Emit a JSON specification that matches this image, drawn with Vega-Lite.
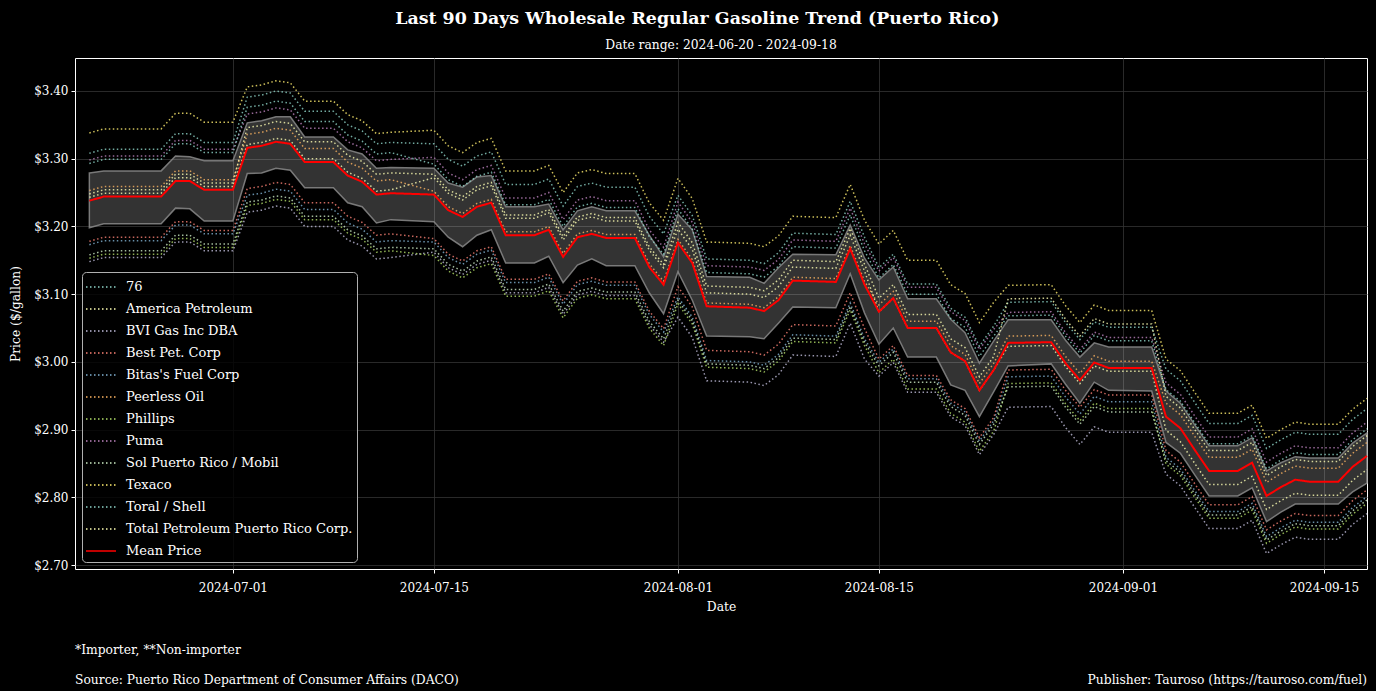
{
"$schema":"https://vega.github.io/schema/vega-lite/v6.json",
"background":"#000000",
"padding":{"top":9,"left":9,"right":9,"bottom":0},
"title":{"text":"Last 90 Days Wholesale Regular Gasoline Trend (Puerto Rico)","fontSize":17.4,"fontWeight":"bold","font":"DejaVu Serif","color":"white","anchor":"middle","frame":"bounds","offset":11,"dx":7},
"resolve":{"scale":{"color":"independent","strokeDash":"independent"},"legend":{"color":"independent","strokeDash":"independent"}},
"datasets":{
"band":[
{"d":"2024-06-21","hi":3.279,"lo":3.198},{"d":"2024-06-22","hi":3.282,"lo":3.204},{"d":"2024-06-26","hi":3.282,"lo":3.204},{"d":"2024-06-27","hi":3.304,"lo":3.227},{"d":"2024-06-28","hi":3.303,"lo":3.226},{"d":"2024-06-29","hi":3.297,"lo":3.208},{"d":"2024-07-01","hi":3.297,"lo":3.208},
{"d":"2024-07-02","hi":3.353,"lo":3.278},{"d":"2024-07-03","hi":3.356,"lo":3.279},{"d":"2024-07-04","hi":3.362,"lo":3.286},{"d":"2024-07-05","hi":3.362,"lo":3.283},{"d":"2024-07-06","hi":3.332,"lo":3.257},{"d":"2024-07-08","hi":3.332,"lo":3.257},{"d":"2024-07-09","hi":3.313,"lo":3.235},{"d":"2024-07-10","hi":3.307,"lo":3.229},{"d":"2024-07-11","hi":3.286,"lo":3.205},{"d":"2024-07-12","hi":3.287,"lo":3.210},
{"d":"2024-07-15","hi":3.286,"lo":3.207},{"d":"2024-07-16","hi":3.264,"lo":3.184},{"d":"2024-07-17","hi":3.258,"lo":3.170},{"d":"2024-07-18","hi":3.273,"lo":3.187},{"d":"2024-07-19","hi":3.275,"lo":3.195},{"d":"2024-07-20","hi":3.229,"lo":3.146},{"d":"2024-07-22","hi":3.229,"lo":3.146},{"d":"2024-07-23","hi":3.233,"lo":3.156},{"d":"2024-07-24","hi":3.195,"lo":3.117},{"d":"2024-07-25","hi":3.223,"lo":3.143},{"d":"2024-07-26","hi":3.229,"lo":3.152},{"d":"2024-07-27","hi":3.223,"lo":3.142},{"d":"2024-07-29","hi":3.223,"lo":3.142},{"d":"2024-07-30","hi":3.187,"lo":3.102},{"d":"2024-07-31","hi":3.155,"lo":3.071},
{"d":"2024-08-01","hi":3.218,"lo":3.133},{"d":"2024-08-02","hi":3.195,"lo":3.091},{"d":"2024-08-03","hi":3.126,"lo":3.038},{"d":"2024-08-06","hi":3.125,"lo":3.037},{"d":"2024-08-07","hi":3.116,"lo":3.034},{"d":"2024-08-08","hi":3.139,"lo":3.057},{"d":"2024-08-09","hi":3.159,"lo":3.081},{"d":"2024-08-12","hi":3.158,"lo":3.080},{"d":"2024-08-13","hi":3.202,"lo":3.130},{"d":"2024-08-14","hi":3.153,"lo":3.072},
{"d":"2024-08-15","hi":3.121,"lo":3.026},{"d":"2024-08-16","hi":3.140,"lo":3.050},{"d":"2024-08-17","hi":3.093,"lo":3.007},{"d":"2024-08-19","hi":3.093,"lo":3.007},{"d":"2024-08-20","hi":3.063,"lo":2.966},{"d":"2024-08-21","hi":3.043,"lo":2.958},{"d":"2024-08-22","hi":2.998,"lo":2.919},{"d":"2024-08-23","hi":3.031,"lo":2.956},
{"d":"2024-08-24","hi":3.062,"lo":2.994},{"d":"2024-08-27","hi":3.062,"lo":2.997},{"d":"2024-08-28","hi":3.032,"lo":2.967},{"d":"2024-08-29","hi":3.007,"lo":2.939},{"d":"2024-08-30","hi":3.028,"lo":2.970},{"d":"2024-08-31","hi":3.022,"lo":2.958},{"d":"2024-09-03","hi":3.022,"lo":2.957},
{"d":"2024-09-04","hi":2.957,"lo":2.881},{"d":"2024-09-05","hi":2.939,"lo":2.865},{"d":"2024-09-06","hi":2.907,"lo":2.833},{"d":"2024-09-07","hi":2.876,"lo":2.802},{"d":"2024-09-09","hi":2.876,"lo":2.802},{"d":"2024-09-10","hi":2.888,"lo":2.814},{"d":"2024-09-11","hi":2.839,"lo":2.764},{"d":"2024-09-12","hi":2.851,"lo":2.778},{"d":"2024-09-13","hi":2.860,"lo":2.790},{"d":"2024-09-14","hi":2.858,"lo":2.790},{"d":"2024-09-16","hi":2.858,"lo":2.790},{"d":"2024-09-17","hi":2.880,"lo":2.808},{"d":"2024-09-18","hi":2.895,"lo":2.821}
],
"mean":[
{"d":"2024-06-21","c":"Mean Price","p":3.238},{"d":"2024-06-22","c":"Mean Price","p":3.244},{"d":"2024-06-26","c":"Mean Price","p":3.244},{"d":"2024-06-27","c":"Mean Price","p":3.267},{"d":"2024-06-28","c":"Mean Price","p":3.267},{"d":"2024-06-29","c":"Mean Price","p":3.254},{"d":"2024-07-01","c":"Mean Price","p":3.254},
{"d":"2024-07-02","c":"Mean Price","p":3.316},{"d":"2024-07-03","c":"Mean Price","p":3.319},{"d":"2024-07-04","c":"Mean Price","p":3.325},{"d":"2024-07-05","c":"Mean Price","p":3.322},{"d":"2024-07-06","c":"Mean Price","p":3.295},{"d":"2024-07-08","c":"Mean Price","p":3.295},{"d":"2024-07-09","c":"Mean Price","p":3.275},{"d":"2024-07-10","c":"Mean Price","p":3.266},{"d":"2024-07-11","c":"Mean Price","p":3.247},{"d":"2024-07-12","c":"Mean Price","p":3.249},
{"d":"2024-07-15","c":"Mean Price","p":3.247},{"d":"2024-07-16","c":"Mean Price","p":3.224},{"d":"2024-07-17","c":"Mean Price","p":3.214},{"d":"2024-07-18","c":"Mean Price","p":3.229},{"d":"2024-07-19","c":"Mean Price","p":3.235},{"d":"2024-07-20","c":"Mean Price","p":3.187},{"d":"2024-07-22","c":"Mean Price","p":3.187},{"d":"2024-07-23","c":"Mean Price","p":3.195},{"d":"2024-07-24","c":"Mean Price","p":3.155},{"d":"2024-07-25","c":"Mean Price","p":3.184},{"d":"2024-07-26","c":"Mean Price","p":3.189},{"d":"2024-07-27","c":"Mean Price","p":3.183},{"d":"2024-07-29","c":"Mean Price","p":3.183},{"d":"2024-07-30","c":"Mean Price","p":3.140},{"d":"2024-07-31","c":"Mean Price","p":3.114},
{"d":"2024-08-01","c":"Mean Price","p":3.176},{"d":"2024-08-02","c":"Mean Price","p":3.146},{"d":"2024-08-03","c":"Mean Price","p":3.082},{"d":"2024-08-06","c":"Mean Price","p":3.080},{"d":"2024-08-07","c":"Mean Price","p":3.075},{"d":"2024-08-08","c":"Mean Price","p":3.091},{"d":"2024-08-09","c":"Mean Price","p":3.120},{"d":"2024-08-12","c":"Mean Price","p":3.118},{"d":"2024-08-13","c":"Mean Price","p":3.167},{"d":"2024-08-14","c":"Mean Price","p":3.114},
{"d":"2024-08-15","c":"Mean Price","p":3.074},{"d":"2024-08-16","c":"Mean Price","p":3.094},{"d":"2024-08-17","c":"Mean Price","p":3.050},{"d":"2024-08-19","c":"Mean Price","p":3.050},{"d":"2024-08-20","c":"Mean Price","p":3.014},{"d":"2024-08-21","c":"Mean Price","p":3.001},{"d":"2024-08-22","c":"Mean Price","p":2.958},{"d":"2024-08-23","c":"Mean Price","p":2.988},
{"d":"2024-08-24","c":"Mean Price","p":3.028},{"d":"2024-08-27","c":"Mean Price","p":3.029},{"d":"2024-08-28","c":"Mean Price","p":2.998},{"d":"2024-08-29","c":"Mean Price","p":2.973},{"d":"2024-08-30","c":"Mean Price","p":2.999},{"d":"2024-08-31","c":"Mean Price","p":2.991},{"d":"2024-09-03","c":"Mean Price","p":2.991},
{"d":"2024-09-04","c":"Mean Price","p":2.919},{"d":"2024-09-05","c":"Mean Price","p":2.902},{"d":"2024-09-06","c":"Mean Price","p":2.870},{"d":"2024-09-07","c":"Mean Price","p":2.839},{"d":"2024-09-09","c":"Mean Price","p":2.839},{"d":"2024-09-10","c":"Mean Price","p":2.851},{"d":"2024-09-11","c":"Mean Price","p":2.802},{"d":"2024-09-12","c":"Mean Price","p":2.815},{"d":"2024-09-13","c":"Mean Price","p":2.826},{"d":"2024-09-14","c":"Mean Price","p":2.823},{"d":"2024-09-16","c":"Mean Price","p":2.823},{"d":"2024-09-17","c":"Mean Price","p":2.845},{"d":"2024-09-18","c":"Mean Price","p":2.861}
],
"series":[
{"d":"2024-06-21","c":"76","p":3.308},{"d":"2024-06-22","c":"76","p":3.314},{"d":"2024-06-26","c":"76","p":3.314},{"d":"2024-06-27","c":"76","p":3.337},{"d":"2024-06-28","c":"76","p":3.337},{"d":"2024-06-29","c":"76","p":3.324},{"d":"2024-07-01","c":"76","p":3.324},{"d":"2024-07-02","c":"76","p":3.391},{"d":"2024-07-03","c":"76","p":3.394},{"d":"2024-07-04","c":"76","p":3.400},{"d":"2024-07-05","c":"76","p":3.397},{"d":"2024-07-06","c":"76","p":3.370},{"d":"2024-07-08","c":"76","p":3.370},{"d":"2024-07-09","c":"76","p":3.350},{"d":"2024-07-10","c":"76","p":3.341},{"d":"2024-07-11","c":"76","p":3.322},{"d":"2024-07-12","c":"76","p":3.324},{"d":"2024-07-15","c":"76","p":3.322},{"d":"2024-07-16","c":"76","p":3.299},{"d":"2024-07-17","c":"76","p":3.289},{"d":"2024-07-18","c":"76","p":3.304},{"d":"2024-07-19","c":"76","p":3.310},{"d":"2024-07-20","c":"76","p":3.262},{"d":"2024-07-22","c":"76","p":3.262},{"d":"2024-07-23","c":"76","p":3.270},{"d":"2024-07-24","c":"76","p":3.230},{"d":"2024-07-25","c":"76","p":3.259},{"d":"2024-07-26","c":"76","p":3.264},{"d":"2024-07-27","c":"76","p":3.258},{"d":"2024-07-29","c":"76","p":3.258},{"d":"2024-07-30","c":"76","p":3.215},{"d":"2024-07-31","c":"76","p":3.189},{"d":"2024-08-01","c":"76","p":3.246},{"d":"2024-08-02","c":"76","p":3.216},{"d":"2024-08-03","c":"76","p":3.152},{"d":"2024-08-06","c":"76","p":3.150},{"d":"2024-08-07","c":"76","p":3.145},{"d":"2024-08-08","c":"76","p":3.161},{"d":"2024-08-09","c":"76","p":3.190},{"d":"2024-08-12","c":"76","p":3.188},{"d":"2024-08-13","c":"76","p":3.237},{"d":"2024-08-14","c":"76","p":3.184},{"d":"2024-08-15","c":"76","p":3.139},{"d":"2024-08-16","c":"76","p":3.159},{"d":"2024-08-17","c":"76","p":3.115},{"d":"2024-08-19","c":"76","p":3.115},{"d":"2024-08-20","c":"76","p":3.079},{"d":"2024-08-21","c":"76","p":3.066},{"d":"2024-08-22","c":"76","p":3.023},{"d":"2024-08-23","c":"76","p":3.053},{"d":"2024-08-24","c":"76","p":3.088},{"d":"2024-08-27","c":"76","p":3.089},{"d":"2024-08-28","c":"76","p":3.058},{"d":"2024-08-29","c":"76","p":3.033},{"d":"2024-08-30","c":"76","p":3.059},{"d":"2024-08-31","c":"76","p":3.051},{"d":"2024-09-03","c":"76","p":3.051},{"d":"2024-09-04","c":"76","p":2.989},{"d":"2024-09-05","c":"76","p":2.972},{"d":"2024-09-06","c":"76","p":2.940},{"d":"2024-09-07","c":"76","p":2.909},{"d":"2024-09-09","c":"76","p":2.909},{"d":"2024-09-10","c":"76","p":2.921},{"d":"2024-09-11","c":"76","p":2.872},{"d":"2024-09-12","c":"76","p":2.885},{"d":"2024-09-13","c":"76","p":2.896},{"d":"2024-09-14","c":"76","p":2.893},{"d":"2024-09-16","c":"76","p":2.893},{"d":"2024-09-17","c":"76","p":2.915},{"d":"2024-09-18","c":"76","p":2.931},
{"d":"2024-06-21","c":"America Petroleum","p":3.243},{"d":"2024-06-22","c":"America Petroleum","p":3.249},{"d":"2024-06-26","c":"America Petroleum","p":3.249},{"d":"2024-06-27","c":"America Petroleum","p":3.272},{"d":"2024-06-28","c":"America Petroleum","p":3.272},{"d":"2024-06-29","c":"America Petroleum","p":3.259},{"d":"2024-07-01","c":"America Petroleum","p":3.259},{"d":"2024-07-02","c":"America Petroleum","p":3.321},{"d":"2024-07-03","c":"America Petroleum","p":3.324},{"d":"2024-07-04","c":"America Petroleum","p":3.330},{"d":"2024-07-05","c":"America Petroleum","p":3.327},{"d":"2024-07-06","c":"America Petroleum","p":3.300},{"d":"2024-07-08","c":"America Petroleum","p":3.300},{"d":"2024-07-09","c":"America Petroleum","p":3.280},{"d":"2024-07-10","c":"America Petroleum","p":3.271},{"d":"2024-07-11","c":"America Petroleum","p":3.252},{"d":"2024-07-12","c":"America Petroleum","p":3.254},{"d":"2024-07-15","c":"America Petroleum","p":3.272},{"d":"2024-07-16","c":"America Petroleum","p":3.249},{"d":"2024-07-17","c":"America Petroleum","p":3.239},{"d":"2024-07-18","c":"America Petroleum","p":3.254},{"d":"2024-07-19","c":"America Petroleum","p":3.260},{"d":"2024-07-20","c":"America Petroleum","p":3.212},{"d":"2024-07-22","c":"America Petroleum","p":3.212},{"d":"2024-07-23","c":"America Petroleum","p":3.220},{"d":"2024-07-24","c":"America Petroleum","p":3.180},{"d":"2024-07-25","c":"America Petroleum","p":3.209},{"d":"2024-07-26","c":"America Petroleum","p":3.214},{"d":"2024-07-27","c":"America Petroleum","p":3.208},{"d":"2024-07-29","c":"America Petroleum","p":3.208},{"d":"2024-07-30","c":"America Petroleum","p":3.165},{"d":"2024-07-31","c":"America Petroleum","p":3.139},{"d":"2024-08-01","c":"America Petroleum","p":3.196},{"d":"2024-08-02","c":"America Petroleum","p":3.166},{"d":"2024-08-03","c":"America Petroleum","p":3.102},{"d":"2024-08-06","c":"America Petroleum","p":3.100},{"d":"2024-08-07","c":"America Petroleum","p":3.095},{"d":"2024-08-08","c":"America Petroleum","p":3.111},{"d":"2024-08-09","c":"America Petroleum","p":3.140},{"d":"2024-08-12","c":"America Petroleum","p":3.138},{"d":"2024-08-13","c":"America Petroleum","p":3.187},{"d":"2024-08-14","c":"America Petroleum","p":3.134},{"d":"2024-08-15","c":"America Petroleum","p":3.074},{"d":"2024-08-16","c":"America Petroleum","p":3.094},{"d":"2024-08-17","c":"America Petroleum","p":3.050},{"d":"2024-08-19","c":"America Petroleum","p":3.050},{"d":"2024-08-20","c":"America Petroleum","p":3.014},{"d":"2024-08-21","c":"America Petroleum","p":3.001},{"d":"2024-08-22","c":"America Petroleum","p":2.958},{"d":"2024-08-23","c":"America Petroleum","p":2.988},{"d":"2024-08-24","c":"America Petroleum","p":3.023},{"d":"2024-08-27","c":"America Petroleum","p":3.024},{"d":"2024-08-28","c":"America Petroleum","p":2.993},{"d":"2024-08-29","c":"America Petroleum","p":2.968},{"d":"2024-08-30","c":"America Petroleum","p":2.994},{"d":"2024-08-31","c":"America Petroleum","p":2.986},{"d":"2024-09-03","c":"America Petroleum","p":2.986},{"d":"2024-09-04","c":"America Petroleum","p":2.899},{"d":"2024-09-05","c":"America Petroleum","p":2.882},{"d":"2024-09-06","c":"America Petroleum","p":2.850},{"d":"2024-09-07","c":"America Petroleum","p":2.819},{"d":"2024-09-09","c":"America Petroleum","p":2.819},{"d":"2024-09-10","c":"America Petroleum","p":2.831},{"d":"2024-09-11","c":"America Petroleum","p":2.782},{"d":"2024-09-12","c":"America Petroleum","p":2.795},{"d":"2024-09-13","c":"America Petroleum","p":2.806},{"d":"2024-09-14","c":"America Petroleum","p":2.803},{"d":"2024-09-16","c":"America Petroleum","p":2.803},{"d":"2024-09-17","c":"America Petroleum","p":2.825},{"d":"2024-09-18","c":"America Petroleum","p":2.841},
{"d":"2024-06-21","c":"BVI Gas Inc DBA","p":3.148},{"d":"2024-06-22","c":"BVI Gas Inc DBA","p":3.154},{"d":"2024-06-26","c":"BVI Gas Inc DBA","p":3.154},{"d":"2024-06-27","c":"BVI Gas Inc DBA","p":3.177},{"d":"2024-06-28","c":"BVI Gas Inc DBA","p":3.177},{"d":"2024-06-29","c":"BVI Gas Inc DBA","p":3.164},{"d":"2024-07-01","c":"BVI Gas Inc DBA","p":3.164},{"d":"2024-07-02","c":"BVI Gas Inc DBA","p":3.221},{"d":"2024-07-03","c":"BVI Gas Inc DBA","p":3.224},{"d":"2024-07-04","c":"BVI Gas Inc DBA","p":3.230},{"d":"2024-07-05","c":"BVI Gas Inc DBA","p":3.227},{"d":"2024-07-06","c":"BVI Gas Inc DBA","p":3.200},{"d":"2024-07-08","c":"BVI Gas Inc DBA","p":3.200},{"d":"2024-07-09","c":"BVI Gas Inc DBA","p":3.180},{"d":"2024-07-10","c":"BVI Gas Inc DBA","p":3.171},{"d":"2024-07-11","c":"BVI Gas Inc DBA","p":3.152},{"d":"2024-07-12","c":"BVI Gas Inc DBA","p":3.154},{"d":"2024-07-15","c":"BVI Gas Inc DBA","p":3.162},{"d":"2024-07-16","c":"BVI Gas Inc DBA","p":3.139},{"d":"2024-07-17","c":"BVI Gas Inc DBA","p":3.129},{"d":"2024-07-18","c":"BVI Gas Inc DBA","p":3.144},{"d":"2024-07-19","c":"BVI Gas Inc DBA","p":3.150},{"d":"2024-07-20","c":"BVI Gas Inc DBA","p":3.102},{"d":"2024-07-22","c":"BVI Gas Inc DBA","p":3.102},{"d":"2024-07-23","c":"BVI Gas Inc DBA","p":3.110},{"d":"2024-07-24","c":"BVI Gas Inc DBA","p":3.070},{"d":"2024-07-25","c":"BVI Gas Inc DBA","p":3.099},{"d":"2024-07-26","c":"BVI Gas Inc DBA","p":3.104},{"d":"2024-07-27","c":"BVI Gas Inc DBA","p":3.098},{"d":"2024-07-29","c":"BVI Gas Inc DBA","p":3.098},{"d":"2024-07-30","c":"BVI Gas Inc DBA","p":3.055},{"d":"2024-07-31","c":"BVI Gas Inc DBA","p":3.029},{"d":"2024-08-01","c":"BVI Gas Inc DBA","p":3.066},{"d":"2024-08-02","c":"BVI Gas Inc DBA","p":3.036},{"d":"2024-08-03","c":"BVI Gas Inc DBA","p":2.972},{"d":"2024-08-06","c":"BVI Gas Inc DBA","p":2.970},{"d":"2024-08-07","c":"BVI Gas Inc DBA","p":2.965},{"d":"2024-08-08","c":"BVI Gas Inc DBA","p":2.981},{"d":"2024-08-09","c":"BVI Gas Inc DBA","p":3.010},{"d":"2024-08-12","c":"BVI Gas Inc DBA","p":3.008},{"d":"2024-08-13","c":"BVI Gas Inc DBA","p":3.057},{"d":"2024-08-14","c":"BVI Gas Inc DBA","p":3.004},{"d":"2024-08-15","c":"BVI Gas Inc DBA","p":2.979},{"d":"2024-08-16","c":"BVI Gas Inc DBA","p":2.999},{"d":"2024-08-17","c":"BVI Gas Inc DBA","p":2.955},{"d":"2024-08-19","c":"BVI Gas Inc DBA","p":2.955},{"d":"2024-08-20","c":"BVI Gas Inc DBA","p":2.919},{"d":"2024-08-21","c":"BVI Gas Inc DBA","p":2.906},{"d":"2024-08-22","c":"BVI Gas Inc DBA","p":2.863},{"d":"2024-08-23","c":"BVI Gas Inc DBA","p":2.893},{"d":"2024-08-24","c":"BVI Gas Inc DBA","p":2.933},{"d":"2024-08-27","c":"BVI Gas Inc DBA","p":2.934},{"d":"2024-08-28","c":"BVI Gas Inc DBA","p":2.903},{"d":"2024-08-29","c":"BVI Gas Inc DBA","p":2.878},{"d":"2024-08-30","c":"BVI Gas Inc DBA","p":2.904},{"d":"2024-08-31","c":"BVI Gas Inc DBA","p":2.896},{"d":"2024-09-03","c":"BVI Gas Inc DBA","p":2.896},{"d":"2024-09-04","c":"BVI Gas Inc DBA","p":2.834},{"d":"2024-09-05","c":"BVI Gas Inc DBA","p":2.817},{"d":"2024-09-06","c":"BVI Gas Inc DBA","p":2.785},{"d":"2024-09-07","c":"BVI Gas Inc DBA","p":2.754},{"d":"2024-09-09","c":"BVI Gas Inc DBA","p":2.754},{"d":"2024-09-10","c":"BVI Gas Inc DBA","p":2.766},{"d":"2024-09-11","c":"BVI Gas Inc DBA","p":2.717},{"d":"2024-09-12","c":"BVI Gas Inc DBA","p":2.730},{"d":"2024-09-13","c":"BVI Gas Inc DBA","p":2.741},{"d":"2024-09-14","c":"BVI Gas Inc DBA","p":2.738},{"d":"2024-09-16","c":"BVI Gas Inc DBA","p":2.738},{"d":"2024-09-17","c":"BVI Gas Inc DBA","p":2.760},{"d":"2024-09-18","c":"BVI Gas Inc DBA","p":2.776},
{"d":"2024-06-21","c":"Best Pet. Corp","p":3.178},{"d":"2024-06-22","c":"Best Pet. Corp","p":3.184},{"d":"2024-06-26","c":"Best Pet. Corp","p":3.184},{"d":"2024-06-27","c":"Best Pet. Corp","p":3.207},{"d":"2024-06-28","c":"Best Pet. Corp","p":3.207},{"d":"2024-06-29","c":"Best Pet. Corp","p":3.194},{"d":"2024-07-01","c":"Best Pet. Corp","p":3.194},{"d":"2024-07-02","c":"Best Pet. Corp","p":3.256},{"d":"2024-07-03","c":"Best Pet. Corp","p":3.259},{"d":"2024-07-04","c":"Best Pet. Corp","p":3.265},{"d":"2024-07-05","c":"Best Pet. Corp","p":3.262},{"d":"2024-07-06","c":"Best Pet. Corp","p":3.235},{"d":"2024-07-08","c":"Best Pet. Corp","p":3.235},{"d":"2024-07-09","c":"Best Pet. Corp","p":3.215},{"d":"2024-07-10","c":"Best Pet. Corp","p":3.206},{"d":"2024-07-11","c":"Best Pet. Corp","p":3.187},{"d":"2024-07-12","c":"Best Pet. Corp","p":3.189},{"d":"2024-07-15","c":"Best Pet. Corp","p":3.182},{"d":"2024-07-16","c":"Best Pet. Corp","p":3.159},{"d":"2024-07-17","c":"Best Pet. Corp","p":3.149},{"d":"2024-07-18","c":"Best Pet. Corp","p":3.164},{"d":"2024-07-19","c":"Best Pet. Corp","p":3.170},{"d":"2024-07-20","c":"Best Pet. Corp","p":3.122},{"d":"2024-07-22","c":"Best Pet. Corp","p":3.122},{"d":"2024-07-23","c":"Best Pet. Corp","p":3.130},{"d":"2024-07-24","c":"Best Pet. Corp","p":3.090},{"d":"2024-07-25","c":"Best Pet. Corp","p":3.119},{"d":"2024-07-26","c":"Best Pet. Corp","p":3.124},{"d":"2024-07-27","c":"Best Pet. Corp","p":3.118},{"d":"2024-07-29","c":"Best Pet. Corp","p":3.118},{"d":"2024-07-30","c":"Best Pet. Corp","p":3.075},{"d":"2024-07-31","c":"Best Pet. Corp","p":3.049},{"d":"2024-08-01","c":"Best Pet. Corp","p":3.111},{"d":"2024-08-02","c":"Best Pet. Corp","p":3.081},{"d":"2024-08-03","c":"Best Pet. Corp","p":3.017},{"d":"2024-08-06","c":"Best Pet. Corp","p":3.015},{"d":"2024-08-07","c":"Best Pet. Corp","p":3.010},{"d":"2024-08-08","c":"Best Pet. Corp","p":3.026},{"d":"2024-08-09","c":"Best Pet. Corp","p":3.055},{"d":"2024-08-12","c":"Best Pet. Corp","p":3.053},{"d":"2024-08-13","c":"Best Pet. Corp","p":3.102},{"d":"2024-08-14","c":"Best Pet. Corp","p":3.049},{"d":"2024-08-15","c":"Best Pet. Corp","p":3.004},{"d":"2024-08-16","c":"Best Pet. Corp","p":3.024},{"d":"2024-08-17","c":"Best Pet. Corp","p":2.980},{"d":"2024-08-19","c":"Best Pet. Corp","p":2.980},{"d":"2024-08-20","c":"Best Pet. Corp","p":2.944},{"d":"2024-08-21","c":"Best Pet. Corp","p":2.931},{"d":"2024-08-22","c":"Best Pet. Corp","p":2.888},{"d":"2024-08-23","c":"Best Pet. Corp","p":2.918},{"d":"2024-08-24","c":"Best Pet. Corp","p":2.988},{"d":"2024-08-27","c":"Best Pet. Corp","p":2.989},{"d":"2024-08-28","c":"Best Pet. Corp","p":2.958},{"d":"2024-08-29","c":"Best Pet. Corp","p":2.933},{"d":"2024-08-30","c":"Best Pet. Corp","p":2.959},{"d":"2024-08-31","c":"Best Pet. Corp","p":2.951},{"d":"2024-09-03","c":"Best Pet. Corp","p":2.951},{"d":"2024-09-04","c":"Best Pet. Corp","p":2.869},{"d":"2024-09-05","c":"Best Pet. Corp","p":2.852},{"d":"2024-09-06","c":"Best Pet. Corp","p":2.820},{"d":"2024-09-07","c":"Best Pet. Corp","p":2.789},{"d":"2024-09-09","c":"Best Pet. Corp","p":2.789},{"d":"2024-09-10","c":"Best Pet. Corp","p":2.801},{"d":"2024-09-11","c":"Best Pet. Corp","p":2.752},{"d":"2024-09-12","c":"Best Pet. Corp","p":2.765},{"d":"2024-09-13","c":"Best Pet. Corp","p":2.776},{"d":"2024-09-14","c":"Best Pet. Corp","p":2.773},{"d":"2024-09-16","c":"Best Pet. Corp","p":2.773},{"d":"2024-09-17","c":"Best Pet. Corp","p":2.795},{"d":"2024-09-18","c":"Best Pet. Corp","p":2.811},
{"d":"2024-06-21","c":"Bitas's Fuel Corp","p":3.173},{"d":"2024-06-22","c":"Bitas's Fuel Corp","p":3.179},{"d":"2024-06-26","c":"Bitas's Fuel Corp","p":3.179},{"d":"2024-06-27","c":"Bitas's Fuel Corp","p":3.202},{"d":"2024-06-28","c":"Bitas's Fuel Corp","p":3.202},{"d":"2024-06-29","c":"Bitas's Fuel Corp","p":3.189},{"d":"2024-07-01","c":"Bitas's Fuel Corp","p":3.189},{"d":"2024-07-02","c":"Bitas's Fuel Corp","p":3.246},{"d":"2024-07-03","c":"Bitas's Fuel Corp","p":3.249},{"d":"2024-07-04","c":"Bitas's Fuel Corp","p":3.255},{"d":"2024-07-05","c":"Bitas's Fuel Corp","p":3.252},{"d":"2024-07-06","c":"Bitas's Fuel Corp","p":3.225},{"d":"2024-07-08","c":"Bitas's Fuel Corp","p":3.225},{"d":"2024-07-09","c":"Bitas's Fuel Corp","p":3.205},{"d":"2024-07-10","c":"Bitas's Fuel Corp","p":3.196},{"d":"2024-07-11","c":"Bitas's Fuel Corp","p":3.177},{"d":"2024-07-12","c":"Bitas's Fuel Corp","p":3.179},{"d":"2024-07-15","c":"Bitas's Fuel Corp","p":3.177},{"d":"2024-07-16","c":"Bitas's Fuel Corp","p":3.154},{"d":"2024-07-17","c":"Bitas's Fuel Corp","p":3.144},{"d":"2024-07-18","c":"Bitas's Fuel Corp","p":3.159},{"d":"2024-07-19","c":"Bitas's Fuel Corp","p":3.165},{"d":"2024-07-20","c":"Bitas's Fuel Corp","p":3.117},{"d":"2024-07-22","c":"Bitas's Fuel Corp","p":3.117},{"d":"2024-07-23","c":"Bitas's Fuel Corp","p":3.125},{"d":"2024-07-24","c":"Bitas's Fuel Corp","p":3.085},{"d":"2024-07-25","c":"Bitas's Fuel Corp","p":3.114},{"d":"2024-07-26","c":"Bitas's Fuel Corp","p":3.119},{"d":"2024-07-27","c":"Bitas's Fuel Corp","p":3.113},{"d":"2024-07-29","c":"Bitas's Fuel Corp","p":3.113},{"d":"2024-07-30","c":"Bitas's Fuel Corp","p":3.070},{"d":"2024-07-31","c":"Bitas's Fuel Corp","p":3.044},{"d":"2024-08-01","c":"Bitas's Fuel Corp","p":3.096},{"d":"2024-08-02","c":"Bitas's Fuel Corp","p":3.066},{"d":"2024-08-03","c":"Bitas's Fuel Corp","p":3.002},{"d":"2024-08-06","c":"Bitas's Fuel Corp","p":3.000},{"d":"2024-08-07","c":"Bitas's Fuel Corp","p":2.995},{"d":"2024-08-08","c":"Bitas's Fuel Corp","p":3.011},{"d":"2024-08-09","c":"Bitas's Fuel Corp","p":3.040},{"d":"2024-08-12","c":"Bitas's Fuel Corp","p":3.038},{"d":"2024-08-13","c":"Bitas's Fuel Corp","p":3.087},{"d":"2024-08-14","c":"Bitas's Fuel Corp","p":3.034},{"d":"2024-08-15","c":"Bitas's Fuel Corp","p":2.999},{"d":"2024-08-16","c":"Bitas's Fuel Corp","p":3.019},{"d":"2024-08-17","c":"Bitas's Fuel Corp","p":2.975},{"d":"2024-08-19","c":"Bitas's Fuel Corp","p":2.975},{"d":"2024-08-20","c":"Bitas's Fuel Corp","p":2.939},{"d":"2024-08-21","c":"Bitas's Fuel Corp","p":2.926},{"d":"2024-08-22","c":"Bitas's Fuel Corp","p":2.883},{"d":"2024-08-23","c":"Bitas's Fuel Corp","p":2.913},{"d":"2024-08-24","c":"Bitas's Fuel Corp","p":2.978},{"d":"2024-08-27","c":"Bitas's Fuel Corp","p":2.979},{"d":"2024-08-28","c":"Bitas's Fuel Corp","p":2.948},{"d":"2024-08-29","c":"Bitas's Fuel Corp","p":2.923},{"d":"2024-08-30","c":"Bitas's Fuel Corp","p":2.949},{"d":"2024-08-31","c":"Bitas's Fuel Corp","p":2.941},{"d":"2024-09-03","c":"Bitas's Fuel Corp","p":2.941},{"d":"2024-09-04","c":"Bitas's Fuel Corp","p":2.859},{"d":"2024-09-05","c":"Bitas's Fuel Corp","p":2.842},{"d":"2024-09-06","c":"Bitas's Fuel Corp","p":2.810},{"d":"2024-09-07","c":"Bitas's Fuel Corp","p":2.779},{"d":"2024-09-09","c":"Bitas's Fuel Corp","p":2.779},{"d":"2024-09-10","c":"Bitas's Fuel Corp","p":2.791},{"d":"2024-09-11","c":"Bitas's Fuel Corp","p":2.742},{"d":"2024-09-12","c":"Bitas's Fuel Corp","p":2.755},{"d":"2024-09-13","c":"Bitas's Fuel Corp","p":2.766},{"d":"2024-09-14","c":"Bitas's Fuel Corp","p":2.763},{"d":"2024-09-16","c":"Bitas's Fuel Corp","p":2.763},{"d":"2024-09-17","c":"Bitas's Fuel Corp","p":2.785},{"d":"2024-09-18","c":"Bitas's Fuel Corp","p":2.801},
{"d":"2024-06-21","c":"Peerless Oil","p":3.253},{"d":"2024-06-22","c":"Peerless Oil","p":3.259},{"d":"2024-06-26","c":"Peerless Oil","p":3.259},{"d":"2024-06-27","c":"Peerless Oil","p":3.282},{"d":"2024-06-28","c":"Peerless Oil","p":3.282},{"d":"2024-06-29","c":"Peerless Oil","p":3.269},{"d":"2024-07-01","c":"Peerless Oil","p":3.269},{"d":"2024-07-02","c":"Peerless Oil","p":3.336},{"d":"2024-07-03","c":"Peerless Oil","p":3.339},{"d":"2024-07-04","c":"Peerless Oil","p":3.345},{"d":"2024-07-05","c":"Peerless Oil","p":3.342},{"d":"2024-07-06","c":"Peerless Oil","p":3.315},{"d":"2024-07-08","c":"Peerless Oil","p":3.315},{"d":"2024-07-09","c":"Peerless Oil","p":3.295},{"d":"2024-07-10","c":"Peerless Oil","p":3.286},{"d":"2024-07-11","c":"Peerless Oil","p":3.267},{"d":"2024-07-12","c":"Peerless Oil","p":3.269},{"d":"2024-07-15","c":"Peerless Oil","p":3.252},{"d":"2024-07-16","c":"Peerless Oil","p":3.229},{"d":"2024-07-17","c":"Peerless Oil","p":3.219},{"d":"2024-07-18","c":"Peerless Oil","p":3.234},{"d":"2024-07-19","c":"Peerless Oil","p":3.240},{"d":"2024-07-20","c":"Peerless Oil","p":3.192},{"d":"2024-07-22","c":"Peerless Oil","p":3.192},{"d":"2024-07-23","c":"Peerless Oil","p":3.200},{"d":"2024-07-24","c":"Peerless Oil","p":3.160},{"d":"2024-07-25","c":"Peerless Oil","p":3.189},{"d":"2024-07-26","c":"Peerless Oil","p":3.194},{"d":"2024-07-27","c":"Peerless Oil","p":3.188},{"d":"2024-07-29","c":"Peerless Oil","p":3.188},{"d":"2024-07-30","c":"Peerless Oil","p":3.145},{"d":"2024-07-31","c":"Peerless Oil","p":3.119},{"d":"2024-08-01","c":"Peerless Oil","p":3.181},{"d":"2024-08-02","c":"Peerless Oil","p":3.151},{"d":"2024-08-03","c":"Peerless Oil","p":3.087},{"d":"2024-08-06","c":"Peerless Oil","p":3.085},{"d":"2024-08-07","c":"Peerless Oil","p":3.080},{"d":"2024-08-08","c":"Peerless Oil","p":3.096},{"d":"2024-08-09","c":"Peerless Oil","p":3.125},{"d":"2024-08-12","c":"Peerless Oil","p":3.123},{"d":"2024-08-13","c":"Peerless Oil","p":3.172},{"d":"2024-08-14","c":"Peerless Oil","p":3.119},{"d":"2024-08-15","c":"Peerless Oil","p":3.084},{"d":"2024-08-16","c":"Peerless Oil","p":3.104},{"d":"2024-08-17","c":"Peerless Oil","p":3.060},{"d":"2024-08-19","c":"Peerless Oil","p":3.060},{"d":"2024-08-20","c":"Peerless Oil","p":3.024},{"d":"2024-08-21","c":"Peerless Oil","p":3.011},{"d":"2024-08-22","c":"Peerless Oil","p":2.968},{"d":"2024-08-23","c":"Peerless Oil","p":2.998},{"d":"2024-08-24","c":"Peerless Oil","p":3.038},{"d":"2024-08-27","c":"Peerless Oil","p":3.039},{"d":"2024-08-28","c":"Peerless Oil","p":3.008},{"d":"2024-08-29","c":"Peerless Oil","p":2.983},{"d":"2024-08-30","c":"Peerless Oil","p":3.009},{"d":"2024-08-31","c":"Peerless Oil","p":3.001},{"d":"2024-09-03","c":"Peerless Oil","p":3.001},{"d":"2024-09-04","c":"Peerless Oil","p":2.939},{"d":"2024-09-05","c":"Peerless Oil","p":2.922},{"d":"2024-09-06","c":"Peerless Oil","p":2.890},{"d":"2024-09-07","c":"Peerless Oil","p":2.859},{"d":"2024-09-09","c":"Peerless Oil","p":2.859},{"d":"2024-09-10","c":"Peerless Oil","p":2.871},{"d":"2024-09-11","c":"Peerless Oil","p":2.822},{"d":"2024-09-12","c":"Peerless Oil","p":2.835},{"d":"2024-09-13","c":"Peerless Oil","p":2.846},{"d":"2024-09-14","c":"Peerless Oil","p":2.843},{"d":"2024-09-16","c":"Peerless Oil","p":2.843},{"d":"2024-09-17","c":"Peerless Oil","p":2.865},{"d":"2024-09-18","c":"Peerless Oil","p":2.881},
{"d":"2024-06-21","c":"Phillips","p":3.153},{"d":"2024-06-22","c":"Phillips","p":3.159},{"d":"2024-06-26","c":"Phillips","p":3.159},{"d":"2024-06-27","c":"Phillips","p":3.182},{"d":"2024-06-28","c":"Phillips","p":3.182},{"d":"2024-06-29","c":"Phillips","p":3.169},{"d":"2024-07-01","c":"Phillips","p":3.169},{"d":"2024-07-02","c":"Phillips","p":3.231},{"d":"2024-07-03","c":"Phillips","p":3.234},{"d":"2024-07-04","c":"Phillips","p":3.240},{"d":"2024-07-05","c":"Phillips","p":3.237},{"d":"2024-07-06","c":"Phillips","p":3.210},{"d":"2024-07-08","c":"Phillips","p":3.210},{"d":"2024-07-09","c":"Phillips","p":3.190},{"d":"2024-07-10","c":"Phillips","p":3.181},{"d":"2024-07-11","c":"Phillips","p":3.162},{"d":"2024-07-12","c":"Phillips","p":3.164},{"d":"2024-07-15","c":"Phillips","p":3.157},{"d":"2024-07-16","c":"Phillips","p":3.134},{"d":"2024-07-17","c":"Phillips","p":3.124},{"d":"2024-07-18","c":"Phillips","p":3.139},{"d":"2024-07-19","c":"Phillips","p":3.145},{"d":"2024-07-20","c":"Phillips","p":3.097},{"d":"2024-07-22","c":"Phillips","p":3.097},{"d":"2024-07-23","c":"Phillips","p":3.105},{"d":"2024-07-24","c":"Phillips","p":3.065},{"d":"2024-07-25","c":"Phillips","p":3.094},{"d":"2024-07-26","c":"Phillips","p":3.099},{"d":"2024-07-27","c":"Phillips","p":3.093},{"d":"2024-07-29","c":"Phillips","p":3.093},{"d":"2024-07-30","c":"Phillips","p":3.050},{"d":"2024-07-31","c":"Phillips","p":3.024},{"d":"2024-08-01","c":"Phillips","p":3.086},{"d":"2024-08-02","c":"Phillips","p":3.056},{"d":"2024-08-03","c":"Phillips","p":2.992},{"d":"2024-08-06","c":"Phillips","p":2.990},{"d":"2024-08-07","c":"Phillips","p":2.985},{"d":"2024-08-08","c":"Phillips","p":3.001},{"d":"2024-08-09","c":"Phillips","p":3.030},{"d":"2024-08-12","c":"Phillips","p":3.028},{"d":"2024-08-13","c":"Phillips","p":3.077},{"d":"2024-08-14","c":"Phillips","p":3.024},{"d":"2024-08-15","c":"Phillips","p":2.984},{"d":"2024-08-16","c":"Phillips","p":3.004},{"d":"2024-08-17","c":"Phillips","p":2.960},{"d":"2024-08-19","c":"Phillips","p":2.960},{"d":"2024-08-20","c":"Phillips","p":2.924},{"d":"2024-08-21","c":"Phillips","p":2.911},{"d":"2024-08-22","c":"Phillips","p":2.868},{"d":"2024-08-23","c":"Phillips","p":2.898},{"d":"2024-08-24","c":"Phillips","p":2.968},{"d":"2024-08-27","c":"Phillips","p":2.969},{"d":"2024-08-28","c":"Phillips","p":2.938},{"d":"2024-08-29","c":"Phillips","p":2.913},{"d":"2024-08-30","c":"Phillips","p":2.939},{"d":"2024-08-31","c":"Phillips","p":2.931},{"d":"2024-09-03","c":"Phillips","p":2.931},{"d":"2024-09-04","c":"Phillips","p":2.849},{"d":"2024-09-05","c":"Phillips","p":2.832},{"d":"2024-09-06","c":"Phillips","p":2.800},{"d":"2024-09-07","c":"Phillips","p":2.769},{"d":"2024-09-09","c":"Phillips","p":2.769},{"d":"2024-09-10","c":"Phillips","p":2.781},{"d":"2024-09-11","c":"Phillips","p":2.732},{"d":"2024-09-12","c":"Phillips","p":2.745},{"d":"2024-09-13","c":"Phillips","p":2.756},{"d":"2024-09-14","c":"Phillips","p":2.753},{"d":"2024-09-16","c":"Phillips","p":2.753},{"d":"2024-09-17","c":"Phillips","p":2.775},{"d":"2024-09-18","c":"Phillips","p":2.791},
{"d":"2024-06-21","c":"Puma","p":3.298},{"d":"2024-06-22","c":"Puma","p":3.304},{"d":"2024-06-26","c":"Puma","p":3.304},{"d":"2024-06-27","c":"Puma","p":3.327},{"d":"2024-06-28","c":"Puma","p":3.327},{"d":"2024-06-29","c":"Puma","p":3.314},{"d":"2024-07-01","c":"Puma","p":3.314},{"d":"2024-07-02","c":"Puma","p":3.366},{"d":"2024-07-03","c":"Puma","p":3.369},{"d":"2024-07-04","c":"Puma","p":3.375},{"d":"2024-07-05","c":"Puma","p":3.372},{"d":"2024-07-06","c":"Puma","p":3.345},{"d":"2024-07-08","c":"Puma","p":3.345},{"d":"2024-07-09","c":"Puma","p":3.325},{"d":"2024-07-10","c":"Puma","p":3.316},{"d":"2024-07-11","c":"Puma","p":3.297},{"d":"2024-07-12","c":"Puma","p":3.299},{"d":"2024-07-15","c":"Puma","p":3.302},{"d":"2024-07-16","c":"Puma","p":3.279},{"d":"2024-07-17","c":"Puma","p":3.269},{"d":"2024-07-18","c":"Puma","p":3.284},{"d":"2024-07-19","c":"Puma","p":3.290},{"d":"2024-07-20","c":"Puma","p":3.242},{"d":"2024-07-22","c":"Puma","p":3.242},{"d":"2024-07-23","c":"Puma","p":3.250},{"d":"2024-07-24","c":"Puma","p":3.210},{"d":"2024-07-25","c":"Puma","p":3.239},{"d":"2024-07-26","c":"Puma","p":3.244},{"d":"2024-07-27","c":"Puma","p":3.238},{"d":"2024-07-29","c":"Puma","p":3.238},{"d":"2024-07-30","c":"Puma","p":3.195},{"d":"2024-07-31","c":"Puma","p":3.169},{"d":"2024-08-01","c":"Puma","p":3.236},{"d":"2024-08-02","c":"Puma","p":3.206},{"d":"2024-08-03","c":"Puma","p":3.142},{"d":"2024-08-06","c":"Puma","p":3.140},{"d":"2024-08-07","c":"Puma","p":3.135},{"d":"2024-08-08","c":"Puma","p":3.151},{"d":"2024-08-09","c":"Puma","p":3.180},{"d":"2024-08-12","c":"Puma","p":3.178},{"d":"2024-08-13","c":"Puma","p":3.227},{"d":"2024-08-14","c":"Puma","p":3.174},{"d":"2024-08-15","c":"Puma","p":3.134},{"d":"2024-08-16","c":"Puma","p":3.154},{"d":"2024-08-17","c":"Puma","p":3.110},{"d":"2024-08-19","c":"Puma","p":3.110},{"d":"2024-08-20","c":"Puma","p":3.074},{"d":"2024-08-21","c":"Puma","p":3.061},{"d":"2024-08-22","c":"Puma","p":3.018},{"d":"2024-08-23","c":"Puma","p":3.048},{"d":"2024-08-24","c":"Puma","p":3.073},{"d":"2024-08-27","c":"Puma","p":3.074},{"d":"2024-08-28","c":"Puma","p":3.043},{"d":"2024-08-29","c":"Puma","p":3.018},{"d":"2024-08-30","c":"Puma","p":3.044},{"d":"2024-08-31","c":"Puma","p":3.036},{"d":"2024-09-03","c":"Puma","p":3.036},{"d":"2024-09-04","c":"Puma","p":2.969},{"d":"2024-09-05","c":"Puma","p":2.952},{"d":"2024-09-06","c":"Puma","p":2.920},{"d":"2024-09-07","c":"Puma","p":2.889},{"d":"2024-09-09","c":"Puma","p":2.889},{"d":"2024-09-10","c":"Puma","p":2.901},{"d":"2024-09-11","c":"Puma","p":2.852},{"d":"2024-09-12","c":"Puma","p":2.865},{"d":"2024-09-13","c":"Puma","p":2.876},{"d":"2024-09-14","c":"Puma","p":2.873},{"d":"2024-09-16","c":"Puma","p":2.873},{"d":"2024-09-17","c":"Puma","p":2.895},{"d":"2024-09-18","c":"Puma","p":2.911},
{"d":"2024-06-21","c":"Sol Puerto Rico / Mobil","p":3.158},{"d":"2024-06-22","c":"Sol Puerto Rico / Mobil","p":3.164},{"d":"2024-06-26","c":"Sol Puerto Rico / Mobil","p":3.164},{"d":"2024-06-27","c":"Sol Puerto Rico / Mobil","p":3.187},{"d":"2024-06-28","c":"Sol Puerto Rico / Mobil","p":3.187},{"d":"2024-06-29","c":"Sol Puerto Rico / Mobil","p":3.174},{"d":"2024-07-01","c":"Sol Puerto Rico / Mobil","p":3.174},{"d":"2024-07-02","c":"Sol Puerto Rico / Mobil","p":3.236},{"d":"2024-07-03","c":"Sol Puerto Rico / Mobil","p":3.239},{"d":"2024-07-04","c":"Sol Puerto Rico / Mobil","p":3.245},{"d":"2024-07-05","c":"Sol Puerto Rico / Mobil","p":3.242},{"d":"2024-07-06","c":"Sol Puerto Rico / Mobil","p":3.215},{"d":"2024-07-08","c":"Sol Puerto Rico / Mobil","p":3.215},{"d":"2024-07-09","c":"Sol Puerto Rico / Mobil","p":3.195},{"d":"2024-07-10","c":"Sol Puerto Rico / Mobil","p":3.186},{"d":"2024-07-11","c":"Sol Puerto Rico / Mobil","p":3.167},{"d":"2024-07-12","c":"Sol Puerto Rico / Mobil","p":3.169},{"d":"2024-07-15","c":"Sol Puerto Rico / Mobil","p":3.167},{"d":"2024-07-16","c":"Sol Puerto Rico / Mobil","p":3.144},{"d":"2024-07-17","c":"Sol Puerto Rico / Mobil","p":3.134},{"d":"2024-07-18","c":"Sol Puerto Rico / Mobil","p":3.149},{"d":"2024-07-19","c":"Sol Puerto Rico / Mobil","p":3.155},{"d":"2024-07-20","c":"Sol Puerto Rico / Mobil","p":3.107},{"d":"2024-07-22","c":"Sol Puerto Rico / Mobil","p":3.107},{"d":"2024-07-23","c":"Sol Puerto Rico / Mobil","p":3.115},{"d":"2024-07-24","c":"Sol Puerto Rico / Mobil","p":3.075},{"d":"2024-07-25","c":"Sol Puerto Rico / Mobil","p":3.104},{"d":"2024-07-26","c":"Sol Puerto Rico / Mobil","p":3.109},{"d":"2024-07-27","c":"Sol Puerto Rico / Mobil","p":3.103},{"d":"2024-07-29","c":"Sol Puerto Rico / Mobil","p":3.103},{"d":"2024-07-30","c":"Sol Puerto Rico / Mobil","p":3.060},{"d":"2024-07-31","c":"Sol Puerto Rico / Mobil","p":3.034},{"d":"2024-08-01","c":"Sol Puerto Rico / Mobil","p":3.091},{"d":"2024-08-02","c":"Sol Puerto Rico / Mobil","p":3.061},{"d":"2024-08-03","c":"Sol Puerto Rico / Mobil","p":2.997},{"d":"2024-08-06","c":"Sol Puerto Rico / Mobil","p":2.995},{"d":"2024-08-07","c":"Sol Puerto Rico / Mobil","p":2.990},{"d":"2024-08-08","c":"Sol Puerto Rico / Mobil","p":3.006},{"d":"2024-08-09","c":"Sol Puerto Rico / Mobil","p":3.035},{"d":"2024-08-12","c":"Sol Puerto Rico / Mobil","p":3.033},{"d":"2024-08-13","c":"Sol Puerto Rico / Mobil","p":3.082},{"d":"2024-08-14","c":"Sol Puerto Rico / Mobil","p":3.029},{"d":"2024-08-15","c":"Sol Puerto Rico / Mobil","p":2.994},{"d":"2024-08-16","c":"Sol Puerto Rico / Mobil","p":3.014},{"d":"2024-08-17","c":"Sol Puerto Rico / Mobil","p":2.970},{"d":"2024-08-19","c":"Sol Puerto Rico / Mobil","p":2.970},{"d":"2024-08-20","c":"Sol Puerto Rico / Mobil","p":2.934},{"d":"2024-08-21","c":"Sol Puerto Rico / Mobil","p":2.921},{"d":"2024-08-22","c":"Sol Puerto Rico / Mobil","p":2.878},{"d":"2024-08-23","c":"Sol Puerto Rico / Mobil","p":2.908},{"d":"2024-08-24","c":"Sol Puerto Rico / Mobil","p":2.963},{"d":"2024-08-27","c":"Sol Puerto Rico / Mobil","p":2.964},{"d":"2024-08-28","c":"Sol Puerto Rico / Mobil","p":2.933},{"d":"2024-08-29","c":"Sol Puerto Rico / Mobil","p":2.908},{"d":"2024-08-30","c":"Sol Puerto Rico / Mobil","p":2.934},{"d":"2024-08-31","c":"Sol Puerto Rico / Mobil","p":2.926},{"d":"2024-09-03","c":"Sol Puerto Rico / Mobil","p":2.926},{"d":"2024-09-04","c":"Sol Puerto Rico / Mobil","p":2.854},{"d":"2024-09-05","c":"Sol Puerto Rico / Mobil","p":2.837},{"d":"2024-09-06","c":"Sol Puerto Rico / Mobil","p":2.805},{"d":"2024-09-07","c":"Sol Puerto Rico / Mobil","p":2.774},{"d":"2024-09-09","c":"Sol Puerto Rico / Mobil","p":2.774},{"d":"2024-09-10","c":"Sol Puerto Rico / Mobil","p":2.786},{"d":"2024-09-11","c":"Sol Puerto Rico / Mobil","p":2.737},{"d":"2024-09-12","c":"Sol Puerto Rico / Mobil","p":2.750},{"d":"2024-09-13","c":"Sol Puerto Rico / Mobil","p":2.761},{"d":"2024-09-14","c":"Sol Puerto Rico / Mobil","p":2.758},{"d":"2024-09-16","c":"Sol Puerto Rico / Mobil","p":2.758},{"d":"2024-09-17","c":"Sol Puerto Rico / Mobil","p":2.780},{"d":"2024-09-18","c":"Sol Puerto Rico / Mobil","p":2.796},
{"d":"2024-06-21","c":"Texaco","p":3.338},{"d":"2024-06-22","c":"Texaco","p":3.344},{"d":"2024-06-26","c":"Texaco","p":3.344},{"d":"2024-06-27","c":"Texaco","p":3.367},{"d":"2024-06-28","c":"Texaco","p":3.367},{"d":"2024-06-29","c":"Texaco","p":3.354},{"d":"2024-07-01","c":"Texaco","p":3.354},{"d":"2024-07-02","c":"Texaco","p":3.406},{"d":"2024-07-03","c":"Texaco","p":3.409},{"d":"2024-07-04","c":"Texaco","p":3.415},{"d":"2024-07-05","c":"Texaco","p":3.412},{"d":"2024-07-06","c":"Texaco","p":3.385},{"d":"2024-07-08","c":"Texaco","p":3.385},{"d":"2024-07-09","c":"Texaco","p":3.365},{"d":"2024-07-10","c":"Texaco","p":3.356},{"d":"2024-07-11","c":"Texaco","p":3.337},{"d":"2024-07-12","c":"Texaco","p":3.339},{"d":"2024-07-15","c":"Texaco","p":3.342},{"d":"2024-07-16","c":"Texaco","p":3.319},{"d":"2024-07-17","c":"Texaco","p":3.309},{"d":"2024-07-18","c":"Texaco","p":3.324},{"d":"2024-07-19","c":"Texaco","p":3.330},{"d":"2024-07-20","c":"Texaco","p":3.282},{"d":"2024-07-22","c":"Texaco","p":3.282},{"d":"2024-07-23","c":"Texaco","p":3.290},{"d":"2024-07-24","c":"Texaco","p":3.250},{"d":"2024-07-25","c":"Texaco","p":3.279},{"d":"2024-07-26","c":"Texaco","p":3.284},{"d":"2024-07-27","c":"Texaco","p":3.278},{"d":"2024-07-29","c":"Texaco","p":3.278},{"d":"2024-07-30","c":"Texaco","p":3.235},{"d":"2024-07-31","c":"Texaco","p":3.209},{"d":"2024-08-01","c":"Texaco","p":3.271},{"d":"2024-08-02","c":"Texaco","p":3.241},{"d":"2024-08-03","c":"Texaco","p":3.177},{"d":"2024-08-06","c":"Texaco","p":3.175},{"d":"2024-08-07","c":"Texaco","p":3.170},{"d":"2024-08-08","c":"Texaco","p":3.186},{"d":"2024-08-09","c":"Texaco","p":3.215},{"d":"2024-08-12","c":"Texaco","p":3.213},{"d":"2024-08-13","c":"Texaco","p":3.262},{"d":"2024-08-14","c":"Texaco","p":3.209},{"d":"2024-08-15","c":"Texaco","p":3.174},{"d":"2024-08-16","c":"Texaco","p":3.194},{"d":"2024-08-17","c":"Texaco","p":3.150},{"d":"2024-08-19","c":"Texaco","p":3.150},{"d":"2024-08-20","c":"Texaco","p":3.114},{"d":"2024-08-21","c":"Texaco","p":3.101},{"d":"2024-08-22","c":"Texaco","p":3.058},{"d":"2024-08-23","c":"Texaco","p":3.088},{"d":"2024-08-24","c":"Texaco","p":3.113},{"d":"2024-08-27","c":"Texaco","p":3.114},{"d":"2024-08-28","c":"Texaco","p":3.083},{"d":"2024-08-29","c":"Texaco","p":3.058},{"d":"2024-08-30","c":"Texaco","p":3.084},{"d":"2024-08-31","c":"Texaco","p":3.076},{"d":"2024-09-03","c":"Texaco","p":3.076},{"d":"2024-09-04","c":"Texaco","p":3.004},{"d":"2024-09-05","c":"Texaco","p":2.987},{"d":"2024-09-06","c":"Texaco","p":2.955},{"d":"2024-09-07","c":"Texaco","p":2.924},{"d":"2024-09-09","c":"Texaco","p":2.924},{"d":"2024-09-10","c":"Texaco","p":2.936},{"d":"2024-09-11","c":"Texaco","p":2.887},{"d":"2024-09-12","c":"Texaco","p":2.900},{"d":"2024-09-13","c":"Texaco","p":2.911},{"d":"2024-09-14","c":"Texaco","p":2.908},{"d":"2024-09-16","c":"Texaco","p":2.908},{"d":"2024-09-17","c":"Texaco","p":2.930},{"d":"2024-09-18","c":"Texaco","p":2.946},
{"d":"2024-06-21","c":"Toral / Shell","p":3.293},{"d":"2024-06-22","c":"Toral / Shell","p":3.299},{"d":"2024-06-26","c":"Toral / Shell","p":3.299},{"d":"2024-06-27","c":"Toral / Shell","p":3.322},{"d":"2024-06-28","c":"Toral / Shell","p":3.322},{"d":"2024-06-29","c":"Toral / Shell","p":3.309},{"d":"2024-07-01","c":"Toral / Shell","p":3.309},{"d":"2024-07-02","c":"Toral / Shell","p":3.376},{"d":"2024-07-03","c":"Toral / Shell","p":3.379},{"d":"2024-07-04","c":"Toral / Shell","p":3.385},{"d":"2024-07-05","c":"Toral / Shell","p":3.382},{"d":"2024-07-06","c":"Toral / Shell","p":3.355},{"d":"2024-07-08","c":"Toral / Shell","p":3.355},{"d":"2024-07-09","c":"Toral / Shell","p":3.335},{"d":"2024-07-10","c":"Toral / Shell","p":3.326},{"d":"2024-07-11","c":"Toral / Shell","p":3.307},{"d":"2024-07-12","c":"Toral / Shell","p":3.309},{"d":"2024-07-15","c":"Toral / Shell","p":3.292},{"d":"2024-07-16","c":"Toral / Shell","p":3.269},{"d":"2024-07-17","c":"Toral / Shell","p":3.259},{"d":"2024-07-18","c":"Toral / Shell","p":3.274},{"d":"2024-07-19","c":"Toral / Shell","p":3.280},{"d":"2024-07-20","c":"Toral / Shell","p":3.232},{"d":"2024-07-22","c":"Toral / Shell","p":3.232},{"d":"2024-07-23","c":"Toral / Shell","p":3.240},{"d":"2024-07-24","c":"Toral / Shell","p":3.200},{"d":"2024-07-25","c":"Toral / Shell","p":3.229},{"d":"2024-07-26","c":"Toral / Shell","p":3.234},{"d":"2024-07-27","c":"Toral / Shell","p":3.228},{"d":"2024-07-29","c":"Toral / Shell","p":3.228},{"d":"2024-07-30","c":"Toral / Shell","p":3.185},{"d":"2024-07-31","c":"Toral / Shell","p":3.159},{"d":"2024-08-01","c":"Toral / Shell","p":3.226},{"d":"2024-08-02","c":"Toral / Shell","p":3.196},{"d":"2024-08-03","c":"Toral / Shell","p":3.132},{"d":"2024-08-06","c":"Toral / Shell","p":3.130},{"d":"2024-08-07","c":"Toral / Shell","p":3.125},{"d":"2024-08-08","c":"Toral / Shell","p":3.141},{"d":"2024-08-09","c":"Toral / Shell","p":3.170},{"d":"2024-08-12","c":"Toral / Shell","p":3.168},{"d":"2024-08-13","c":"Toral / Shell","p":3.217},{"d":"2024-08-14","c":"Toral / Shell","p":3.164},{"d":"2024-08-15","c":"Toral / Shell","p":3.124},{"d":"2024-08-16","c":"Toral / Shell","p":3.144},{"d":"2024-08-17","c":"Toral / Shell","p":3.100},{"d":"2024-08-19","c":"Toral / Shell","p":3.100},{"d":"2024-08-20","c":"Toral / Shell","p":3.064},{"d":"2024-08-21","c":"Toral / Shell","p":3.051},{"d":"2024-08-22","c":"Toral / Shell","p":3.008},{"d":"2024-08-23","c":"Toral / Shell","p":3.038},{"d":"2024-08-24","c":"Toral / Shell","p":3.068},{"d":"2024-08-27","c":"Toral / Shell","p":3.069},{"d":"2024-08-28","c":"Toral / Shell","p":3.038},{"d":"2024-08-29","c":"Toral / Shell","p":3.013},{"d":"2024-08-30","c":"Toral / Shell","p":3.039},{"d":"2024-08-31","c":"Toral / Shell","p":3.031},{"d":"2024-09-03","c":"Toral / Shell","p":3.031},{"d":"2024-09-04","c":"Toral / Shell","p":2.959},{"d":"2024-09-05","c":"Toral / Shell","p":2.942},{"d":"2024-09-06","c":"Toral / Shell","p":2.910},{"d":"2024-09-07","c":"Toral / Shell","p":2.879},{"d":"2024-09-09","c":"Toral / Shell","p":2.879},{"d":"2024-09-10","c":"Toral / Shell","p":2.891},{"d":"2024-09-11","c":"Toral / Shell","p":2.842},{"d":"2024-09-12","c":"Toral / Shell","p":2.855},{"d":"2024-09-13","c":"Toral / Shell","p":2.866},{"d":"2024-09-14","c":"Toral / Shell","p":2.863},{"d":"2024-09-16","c":"Toral / Shell","p":2.863},{"d":"2024-09-17","c":"Toral / Shell","p":2.885},{"d":"2024-09-18","c":"Toral / Shell","p":2.901},
{"d":"2024-06-21","c":"Total Petroleum Puerto Rico Corp.","p":3.248},{"d":"2024-06-22","c":"Total Petroleum Puerto Rico Corp.","p":3.254},{"d":"2024-06-26","c":"Total Petroleum Puerto Rico Corp.","p":3.254},{"d":"2024-06-27","c":"Total Petroleum Puerto Rico Corp.","p":3.277},{"d":"2024-06-28","c":"Total Petroleum Puerto Rico Corp.","p":3.277},{"d":"2024-06-29","c":"Total Petroleum Puerto Rico Corp.","p":3.264},{"d":"2024-07-01","c":"Total Petroleum Puerto Rico Corp.","p":3.264},{"d":"2024-07-02","c":"Total Petroleum Puerto Rico Corp.","p":3.346},{"d":"2024-07-03","c":"Total Petroleum Puerto Rico Corp.","p":3.349},{"d":"2024-07-04","c":"Total Petroleum Puerto Rico Corp.","p":3.355},{"d":"2024-07-05","c":"Total Petroleum Puerto Rico Corp.","p":3.352},{"d":"2024-07-06","c":"Total Petroleum Puerto Rico Corp.","p":3.325},{"d":"2024-07-08","c":"Total Petroleum Puerto Rico Corp.","p":3.325},{"d":"2024-07-09","c":"Total Petroleum Puerto Rico Corp.","p":3.305},{"d":"2024-07-10","c":"Total Petroleum Puerto Rico Corp.","p":3.296},{"d":"2024-07-11","c":"Total Petroleum Puerto Rico Corp.","p":3.277},{"d":"2024-07-12","c":"Total Petroleum Puerto Rico Corp.","p":3.279},{"d":"2024-07-15","c":"Total Petroleum Puerto Rico Corp.","p":3.277},{"d":"2024-07-16","c":"Total Petroleum Puerto Rico Corp.","p":3.254},{"d":"2024-07-17","c":"Total Petroleum Puerto Rico Corp.","p":3.244},{"d":"2024-07-18","c":"Total Petroleum Puerto Rico Corp.","p":3.259},{"d":"2024-07-19","c":"Total Petroleum Puerto Rico Corp.","p":3.265},{"d":"2024-07-20","c":"Total Petroleum Puerto Rico Corp.","p":3.217},{"d":"2024-07-22","c":"Total Petroleum Puerto Rico Corp.","p":3.217},{"d":"2024-07-23","c":"Total Petroleum Puerto Rico Corp.","p":3.225},{"d":"2024-07-24","c":"Total Petroleum Puerto Rico Corp.","p":3.185},{"d":"2024-07-25","c":"Total Petroleum Puerto Rico Corp.","p":3.214},{"d":"2024-07-26","c":"Total Petroleum Puerto Rico Corp.","p":3.219},{"d":"2024-07-27","c":"Total Petroleum Puerto Rico Corp.","p":3.213},{"d":"2024-07-29","c":"Total Petroleum Puerto Rico Corp.","p":3.213},{"d":"2024-07-30","c":"Total Petroleum Puerto Rico Corp.","p":3.170},{"d":"2024-07-31","c":"Total Petroleum Puerto Rico Corp.","p":3.144},{"d":"2024-08-01","c":"Total Petroleum Puerto Rico Corp.","p":3.206},{"d":"2024-08-02","c":"Total Petroleum Puerto Rico Corp.","p":3.176},{"d":"2024-08-03","c":"Total Petroleum Puerto Rico Corp.","p":3.112},{"d":"2024-08-06","c":"Total Petroleum Puerto Rico Corp.","p":3.110},{"d":"2024-08-07","c":"Total Petroleum Puerto Rico Corp.","p":3.105},{"d":"2024-08-08","c":"Total Petroleum Puerto Rico Corp.","p":3.121},{"d":"2024-08-09","c":"Total Petroleum Puerto Rico Corp.","p":3.150},{"d":"2024-08-12","c":"Total Petroleum Puerto Rico Corp.","p":3.148},{"d":"2024-08-13","c":"Total Petroleum Puerto Rico Corp.","p":3.197},{"d":"2024-08-14","c":"Total Petroleum Puerto Rico Corp.","p":3.144},{"d":"2024-08-15","c":"Total Petroleum Puerto Rico Corp.","p":3.094},{"d":"2024-08-16","c":"Total Petroleum Puerto Rico Corp.","p":3.114},{"d":"2024-08-17","c":"Total Petroleum Puerto Rico Corp.","p":3.070},{"d":"2024-08-19","c":"Total Petroleum Puerto Rico Corp.","p":3.070},{"d":"2024-08-20","c":"Total Petroleum Puerto Rico Corp.","p":3.034},{"d":"2024-08-21","c":"Total Petroleum Puerto Rico Corp.","p":3.021},{"d":"2024-08-22","c":"Total Petroleum Puerto Rico Corp.","p":2.978},{"d":"2024-08-23","c":"Total Petroleum Puerto Rico Corp.","p":3.008},{"d":"2024-08-24","c":"Total Petroleum Puerto Rico Corp.","p":3.093},{"d":"2024-08-27","c":"Total Petroleum Puerto Rico Corp.","p":3.094},{"d":"2024-08-28","c":"Total Petroleum Puerto Rico Corp.","p":3.063},{"d":"2024-08-29","c":"Total Petroleum Puerto Rico Corp.","p":3.038},{"d":"2024-08-30","c":"Total Petroleum Puerto Rico Corp.","p":3.064},{"d":"2024-08-31","c":"Total Petroleum Puerto Rico Corp.","p":3.056},{"d":"2024-09-03","c":"Total Petroleum Puerto Rico Corp.","p":3.056},{"d":"2024-09-04","c":"Total Petroleum Puerto Rico Corp.","p":2.949},{"d":"2024-09-05","c":"Total Petroleum Puerto Rico Corp.","p":2.932},{"d":"2024-09-06","c":"Total Petroleum Puerto Rico Corp.","p":2.900},{"d":"2024-09-07","c":"Total Petroleum Puerto Rico Corp.","p":2.869},{"d":"2024-09-09","c":"Total Petroleum Puerto Rico Corp.","p":2.869},{"d":"2024-09-10","c":"Total Petroleum Puerto Rico Corp.","p":2.881},{"d":"2024-09-11","c":"Total Petroleum Puerto Rico Corp.","p":2.832},{"d":"2024-09-12","c":"Total Petroleum Puerto Rico Corp.","p":2.845},{"d":"2024-09-13","c":"Total Petroleum Puerto Rico Corp.","p":2.856},{"d":"2024-09-14","c":"Total Petroleum Puerto Rico Corp.","p":2.853},{"d":"2024-09-16","c":"Total Petroleum Puerto Rico Corp.","p":2.853},{"d":"2024-09-17","c":"Total Petroleum Puerto Rico Corp.","p":2.875},{"d":"2024-09-18","c":"Total Petroleum Puerto Rico Corp.","p":2.891}
]
},
"vconcat":[
{
"width":1292,"height":511,
"view":{"stroke":"#ffffff","strokeWidth":1},
"title":{"text":"Date range: 2024-06-20 - 2024-09-18","fontSize":12.3,"fontWeight":"normal","font":"DejaVu Serif","color":"white","anchor":"middle","offset":7},
"layer":[
{"data":{"name":"band"},
 "mark":{"type":"area","fill":"#ffffff","fillOpacity":0.2,"stroke":"#8a8a8a","strokeWidth":1.5,"strokeOpacity":0.85},
 "encoding":{
  "x":{"field":"d","type":"temporal","title":"Date",
   "scale":{"type":"utc","domain":[{"year":2024,"month":6,"date":20,"utc":true},{"year":2024,"month":9,"date":18,"utc":true}]},
   "axis":{"format":"%Y-%m-%d","values":[{"year":2024,"month":7,"date":1,"utc":true},{"year":2024,"month":7,"date":15,"utc":true},{"year":2024,"month":8,"date":1,"utc":true},{"year":2024,"month":8,"date":15,"utc":true},{"year":2024,"month":9,"date":1,"utc":true},{"year":2024,"month":9,"date":15,"utc":true}],"labelPadding":9,"titlePadding":7,"labelAngle":0}},
  "y":{"field":"hi","type":"quantitative","title":"Price ($/gallon)",
   "scale":{"domain":[2.6941,3.4487],"nice":false,"zero":false},
   "axis":{"format":"$.2f","values":[2.7,2.8,2.9,3.0,3.1,3.2,3.3,3.4],"labelPadding":3,"titlePadding":11}},
  "y2":{"field":"lo"}
 }},
{"data":{"name":"series"},
 "mark":{"type":"line","strokeWidth":1.5,"opacity":0.8},
 "encoding":{
  "x":{"field":"d","type":"temporal"},
  "y":{"field":"p","type":"quantitative"},
  "color":{"field":"c","type":"nominal","title":null,
   "scale":{"domain":["76","America Petroleum","BVI Gas Inc DBA","Best Pet. Corp","Bitas's Fuel Corp","Peerless Oil","Phillips","Puma","Sol Puerto Rico / Mobil","Texaco","Toral / Shell","Total Petroleum Puerto Rico Corp.","Mean Price"],
    "range":["#8dd3c7","#feffb3","#bfbbd9","#fa8174","#81b1d2","#fdb462","#b3de69","#bc82bd","#ccebc4","#ffed6f","#8dd3c7","#feffb3","#ff0000"]}},
  "strokeDash":{"field":"c","type":"nominal","title":null,
   "scale":{"domain":["76","America Petroleum","BVI Gas Inc DBA","Best Pet. Corp","Bitas's Fuel Corp","Peerless Oil","Phillips","Puma","Sol Puerto Rico / Mobil","Texaco","Toral / Shell","Total Petroleum Puerto Rico Corp.","Mean Price"],
    "range":[[1.5,2.5],[1.5,2.5],[1.5,2.5],[1.5,2.5],[1.5,2.5],[1.5,2.5],[1.5,2.5],[1.5,2.5],[1.5,2.5],[1.5,2.5],[1.5,2.5],[1.5,2.5],[1,0]]}}
 }},
{"data":{"name":"mean"},
 "mark":{"type":"line","strokeWidth":2},
 "encoding":{
  "x":{"field":"d","type":"temporal"},
  "y":{"field":"p","type":"quantitative"},
  "color":{"field":"c","type":"nominal","title":null},
  "strokeDash":{"field":"c","type":"nominal","title":null}
 }}
]
},
{
"hconcat":[
{"width":646,"height":1,"data":{"values":[]},"mark":"point","encoding":{},
 "title":{"text":"*Importer, **Non-importer","subtitle":"Source: Puerto Rico Department of Consumer Affairs (DACO)","anchor":"start","fontSize":12.3,"fontWeight":"normal","font":"DejaVu Serif","color":"white","subtitleFont":"DejaVu Serif","subtitleFontSize":12.3,"subtitleColor":"white","subtitlePadding":17,"offset":4}},
{"width":646,"height":1,"data":{"values":[]},"mark":"point","encoding":{},
 "title":{"text":"Publisher: Tauroso (https://tauroso.com/fuel)","anchor":"end","fontSize":12.3,"fontWeight":"normal","font":"DejaVu Serif","color":"white","offset":4}}
],
"spacing":0
}
],
"spacing":31,
"config":{
 "font":"DejaVu Serif",
 "view":{"stroke":null},
 "axis":{"labelColor":"white","titleColor":"white","tickColor":"white","labelFont":"DejaVu Serif","titleFont":"DejaVu Serif","labelFontSize":12,"titleFontSize":12.3,"titleFontWeight":"normal","gridColor":"#333333","gridWidth":0.8,"domain":false,"tickSize":4,"grid":true},
 "legend":{"orient":"bottom-left","offset":7,"fillColor":"rgba(0,0,0,0.8)","strokeColor":"#b0b0b0","cornerRadius":4,"padding":4,"symbolOffset":4,"labelColor":"white","labelFont":"DejaVu Serif","labelFontSize":13,"labelLimit":400,"symbolType":"M-1.5,0L1.5,0","symbolSize":400,"symbolStrokeWidth":1.5,"rowPadding":4,"labelOffset":14,"symbolOpacity":1}
}
}
